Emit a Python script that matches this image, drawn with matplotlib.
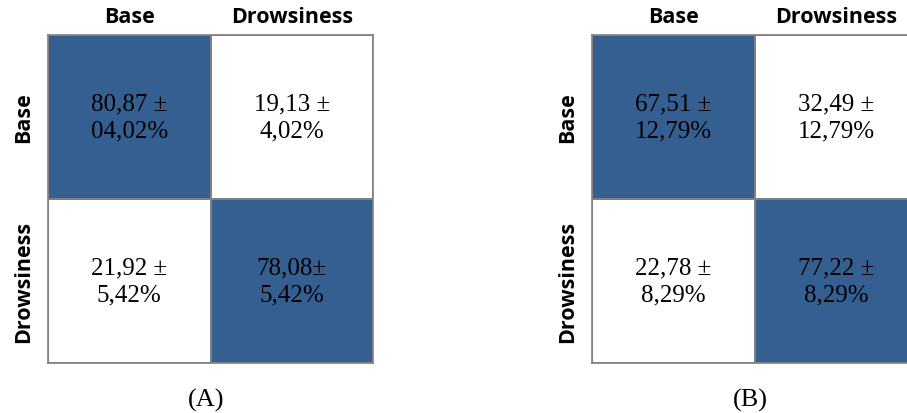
import matplotlib
matplotlib.use("Agg")
import matplotlib.pyplot as plt
import numpy as np

classes = ["Base", "Drowsiness"]
panel_labels = ["(A)", "(B)"]
means_a = [["80,87", "19,13"], ["21,92", "78,08"]]
stds_a = [["04,02%", "4,02%"], ["5,42%", "5,42%"]]
vals_a = [[80.87, 19.13], [21.92, 78.08]]
means_b = [["67,51", "32,49"], ["22,78", "77,22"]]
stds_b = [["12,79%", "12,79%"], ["8,29%", "8,29%"]]
vals_b = [[67.51, 32.49], [22.78, 77.22]]
seps_a = [[" ±", " ±"], [" ±", "±"]]
seps_b = [[" ±", " ±"], [" ±", " ±"]]

W, H = 907, 414
fig = plt.figure(figsize=(W / 100, H / 100), dpi=100)

BLUE = "#365f91"
EDGE = "#808080"
header_font = dict(family=["Open Sans", "DejaVu Sans"], fontweight="bold", fontsize=15.5)
cell_font = dict(family=["Liberation Serif", "DejaVu Serif"], fontsize=18)

def panel(x0, x1, y0, y1, vals, means, stds, seps, label):
    ax = fig.add_axes([x0 / W, 1 - y1 / H, (x1 - x0) / W, (y1 - y0) / H])
    v = np.array(vals)
    colors = np.where(v > 50, 1, 0)
    ax.pcolormesh(colors, cmap=matplotlib.colors.ListedColormap(["white", BLUE]),
                  vmin=0, vmax=1, edgecolors=EDGE, linewidth=1.2)
    ax.set_xlim(0, 2)
    ax.set_ylim(2, 0)
    for i in range(2):
        for j in range(2):
            ax.text(j + 0.5, i + 0.5, f"{means[i][j]}{seps[i][j]}\n{stds[i][j]}",
                    ha="center", va="center", linespacing=1.3, color="black", **cell_font)
    ax.set_xticks([0.5, 1.5])
    ax.set_xticklabels(classes, **header_font)
    ax.xaxis.tick_top()
    ax.set_yticks([0.5, 1.5])
    ax.set_yticklabels(classes, rotation=90, va="center", **header_font)
    ax.tick_params(axis="x", length=0, pad=6)
    ax.tick_params(axis="y", length=0, pad=10)
    for s in ax.spines.values():
        s.set_color(EDGE)
        s.set_linewidth(1.2)
    fig.text((x0 + 158) / W, 1 - 400 / H, label,
             ha="center", va="center", family=["Liberation Serif"], fontsize=19)
    return ax

panel(48, 373, 36, 364, vals_a, means_a, stds_a, seps_a, panel_labels[0])
panel(592, 918, 36, 364, vals_b, means_b, stds_b, seps_b, panel_labels[1])

fig.savefig("out.png", dpi=100)
